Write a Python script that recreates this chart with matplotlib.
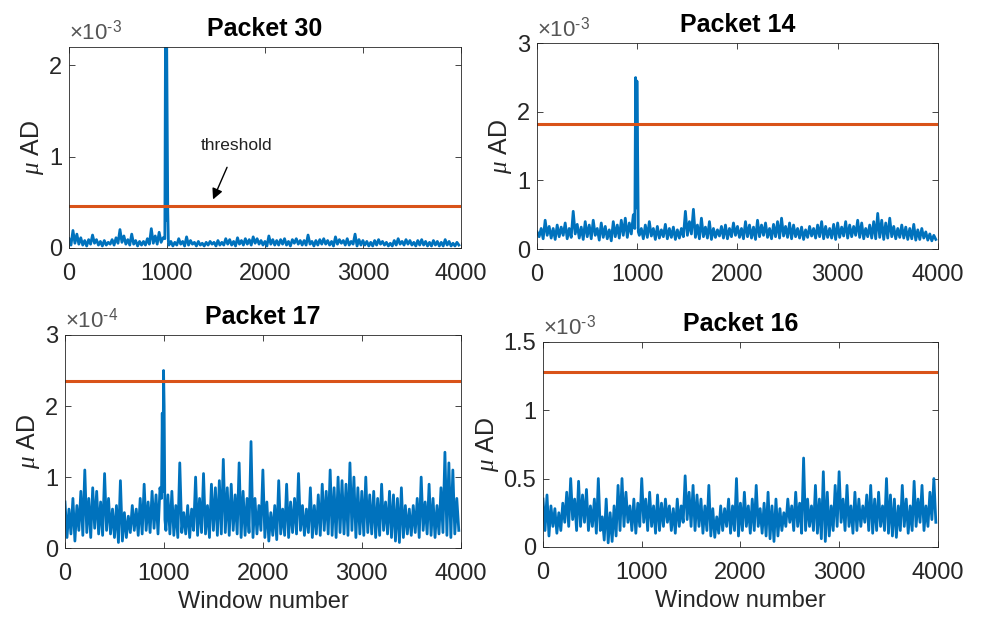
import numpy as np
import matplotlib
matplotlib.use("Agg")
import matplotlib.pyplot as plt

plt.rcParams['font.family'] = ['Liberation Sans', 'DejaVu Sans']
plt.rcParams['mathtext.fontset'] = 'custom'
plt.rcParams['mathtext.rm'] = 'Liberation Sans'
plt.rcParams['mathtext.it'] = 'Liberation Serif:italic'

#data: upper/lower envelope of the noise, every 20 windows
#Packet 30 (x1e-3)
p30_hi = [0.10,0.19,0.15,0.11,0.08,0.09,0.14,0.09,0.07,0.08,0.06,0.09,0.11,0.20,0.13,0.09,0.15,0.08,0.07,0.07,
          0.10,0.21,0.13,0.17,0.11,
          0.09,0.07,0.06,0.10,0.07,0.12,0.08,0.06,0.07,0.05,0.06,0.07,0.06,0.08,0.06,0.10,0.09,0.07,0.11,0.08,
          0.10,0.09,0.12,0.10,0.08,0.07,0.13,0.09,0.08,0.09,0.10,0.07,0.09,0.10,0.08,0.08,0.14,0.07,0.08,0.09,
          0.10,0.08,0.07,0.12,0.09,0.08,0.10,0.07,0.15,0.09,0.08,0.07,0.06,0.08,0.09,0.07,0.06,0.05,0.08,0.10,
          0.07,0.09,0.08,0.06,0.08,0.09,0.07,0.06,0.08,0.07,0.06,0.09,0.07,0.05,0.06]
p30_lo = [0.03,0.05,0.04,0.03,0.02,0.04,0.05,0.03,0.02,0.03,0.04,0.03,0.05,0.06,0.04,0.03,0.04,0.02,0.03,0.03,
          0.04,0.05,0.04,0.06,0.04,
          0.03,0.02,0.03,0.04,0.02,0.03,0.04,0.02,0.03,0.02,0.03,0.04,0.02,0.03,0.03,0.04,0.03,0.02,0.04,0.03,
          0.04,0.03,0.05,0.04,0.03,0.02,0.04,0.03,0.03,0.04,0.03,0.02,0.05,0.04,0.03,0.03,0.04,0.02,0.03,0.04,
          0.04,0.03,0.02,0.04,0.05,0.03,0.03,0.04,0.02,0.03,0.03,0.02,0.02,0.03,0.04,0.03,0.02,0.02,0.03,0.04,
          0.03,0.04,0.03,0.02,0.03,0.03,0.02,0.02,0.03,0.02,0.02,0.03,0.02,0.02,0.03]
p30_spike_x = [978, 985, 990, 996, 1002, 1008, 1014]
p30_spike_y = [0.10, 2.40, 0.30, 2.40, 1.35, 0.40, 0.07]
p30_thr = 0.46

#Packet 14 (x1e-3)
p14_hi = [0.25,0.30,0.42,0.33,0.30,0.35,0.32,0.38,0.30,0.55,0.36,0.32,0.40,0.35,0.42,0.30,0.38,0.33,0.28,0.40,
          0.35,0.42,0.45,0.38,0.50,
          0.38,0.30,0.35,0.40,0.30,0.33,0.28,0.36,0.30,0.32,0.28,0.30,0.55,0.40,0.58,0.35,0.45,0.32,0.40,0.30,
          0.28,0.33,0.35,0.30,0.38,0.33,0.30,0.40,0.35,0.32,0.42,0.35,0.38,0.30,0.36,0.40,0.45,0.33,0.38,0.35,
          0.30,0.32,0.28,0.33,0.30,0.35,0.40,0.33,0.30,0.36,0.38,0.32,0.40,0.35,0.33,0.42,0.38,0.30,0.35,0.40,
          0.52,0.42,0.38,0.45,0.33,0.30,0.35,0.32,0.30,0.36,0.28,0.30,0.25,0.22,0.20]
p14_lo = [0.18,0.15,0.20,0.16,0.14,0.18,0.20,0.15,0.17,0.22,0.16,0.14,0.18,0.15,0.20,0.13,0.17,0.15,0.12,0.18,
          0.16,0.20,0.17,0.22,0.18,
          0.20,0.15,0.17,0.19,0.14,0.16,0.18,0.15,0.17,0.14,0.16,0.18,0.20,0.22,0.17,0.15,0.18,0.16,0.14,0.17,
          0.19,0.16,0.15,0.18,0.20,0.17,0.15,0.18,0.16,0.14,0.18,0.20,0.17,0.15,0.18,0.16,0.19,0.17,0.15,0.18,
          0.16,0.14,0.17,0.19,0.16,0.18,0.15,0.17,0.16,0.14,0.17,0.19,0.16,0.18,0.20,0.17,0.15,0.18,0.16,0.15,
          0.17,0.14,0.16,0.18,0.15,0.17,0.16,0.14,0.15,0.13,0.14,0.16,0.13,0.12,0.14]
p14_spike_x = [975, 983, 990, 996, 1002, 1010]
p14_spike_y = [0.30, 2.50, 0.60, 2.45, 1.60, 0.25]
p14_thr = 1.83

#Packet 17 (x1e-4)
p17_hi = [0.65,0.55,0.70,0.60,0.80,1.10,0.70,0.85,0.80,0.65,1.05,0.70,0.55,0.60,0.95,0.50,0.45,0.60,0.55,0.70,
          0.90,0.65,0.80,0.75,0.85,
          0.80,0.75,0.80,0.60,1.20,0.50,0.60,0.55,1.00,0.70,1.05,0.60,0.90,0.85,0.95,1.25,0.85,0.90,0.75,1.20,
          0.80,0.70,1.50,0.70,0.60,1.10,0.65,0.50,0.60,0.95,0.55,0.90,0.65,0.70,1.05,0.60,0.55,0.85,0.60,0.75,
          0.90,0.80,1.10,0.85,1.00,0.95,0.90,1.20,1.00,0.85,0.80,1.00,0.75,0.80,0.70,0.90,0.65,0.80,0.75,0.70,
          0.85,0.60,0.55,0.60,0.70,1.00,0.65,0.90,0.70,0.60,0.85,1.35,1.20,1.10,0.70]
p17_lo = [0.15,0.20,0.10,0.25,0.18,0.22,0.15,0.28,0.20,0.18,0.25,0.20,0.15,0.08,0.10,0.15,0.22,0.25,0.18,0.20,
          0.25,0.22,0.28,0.20,0.30,
          0.25,0.20,0.18,0.15,0.22,0.20,0.15,0.25,0.18,0.22,0.20,0.15,0.25,0.18,0.20,0.22,0.18,0.25,0.20,0.15,
          0.18,0.22,0.15,0.20,0.25,0.15,0.10,0.18,0.12,0.20,0.18,0.15,0.22,0.20,0.25,0.18,0.22,0.15,0.20,0.18,
          0.25,0.20,0.18,0.15,0.22,0.20,0.18,0.25,0.15,0.20,0.18,0.22,0.20,0.15,0.18,0.25,0.20,0.15,0.10,0.08,
          0.15,0.20,0.18,0.22,0.15,0.25,0.20,0.18,0.15,0.20,0.22,0.18,0.15,0.20,0.25]
p17_spike_x = [975, 983, 990, 996, 1002, 1010]
p17_spike_y = [0.70, 1.90, 0.80, 2.50, 2.00, 0.40]
p17_thr = 2.35

#Packet 16 (x1e-3)
p16_hi = [0.35,0.38,0.30,0.28,0.25,0.32,0.40,0.50,0.35,0.48,0.38,0.42,0.30,0.35,0.50,0.22,0.35,0.25,0.30,0.45,
          0.50,0.40,0.30,0.35,0.32,
          0.50,0.35,0.40,0.30,0.38,0.32,0.35,0.30,0.28,0.35,0.30,0.52,0.40,0.45,0.38,0.35,0.30,0.45,0.28,0.22,
          0.30,0.28,0.35,0.30,0.50,0.32,0.40,0.30,0.35,0.45,0.28,0.32,0.40,0.30,0.35,0.28,0.25,0.35,0.30,0.40,
          0.32,0.65,0.35,0.30,0.45,0.35,0.55,0.40,0.30,0.45,0.55,0.35,0.45,0.30,0.40,0.35,0.30,0.38,0.45,0.35,
          0.40,0.30,0.50,0.38,0.35,0.30,0.45,0.35,0.30,0.48,0.35,0.45,0.30,0.40,0.50]
p16_lo = [0.12,0.08,0.15,0.10,0.12,0.18,0.15,0.20,0.12,0.15,0.18,0.12,0.15,0.10,0.12,0.05,0.03,0.04,0.08,0.12,
          0.15,0.18,0.12,0.10,0.15,
          0.18,0.12,0.15,0.10,0.12,0.15,0.18,0.12,0.10,0.15,0.18,0.20,0.15,0.12,0.15,0.10,0.12,0.08,0.07,0.10,
          0.12,0.15,0.10,0.12,0.08,0.12,0.15,0.10,0.12,0.15,0.10,0.08,0.06,0.04,0.08,0.12,0.15,0.18,0.12,0.15,
          0.10,0.12,0.15,0.12,0.10,0.06,0.04,0.08,0.12,0.15,0.18,0.12,0.15,0.10,0.12,0.15,0.18,0.12,0.10,0.12,
          0.15,0.12,0.10,0.08,0.07,0.12,0.15,0.10,0.12,0.15,0.18,0.12,0.15,0.20,0.18]
p16_spike_x = []
p16_spike_y = []
p16_thr = 1.28

titles = ["Packet 30", "Packet 14", "Packet 17", "Packet 16"]
scales = [1e-3, 1e-3, 1e-4, 1e-3]
exps = [r'$\times10^{\text{-}3}$', r'$\times10^{\text{-}3}$', r'$\times10^{\text{-}4}$', r'$\times10^{\text{-}3}$']
yticks = [[0, 1, 2], [0, 1, 2, 3], [0, 1, 2, 3], [0, 0.5, 1, 1.5]]
ylims = [2.2, 3, 3, 1.5]
xticks = [0, 1000, 2000, 3000, 4000]
xmax = 4000

#axes boxes (fig fractions)
boxes = [[0.0703, 0.599, 0.399, 0.325],
         [0.547, 0.597, 0.408, 0.333],
         [0.0662, 0.113, 0.403, 0.345],
         [0.553, 0.115, 0.402, 0.332]]

blue = '#0072BD'
orange = '#D95319'
dark = '#262626'

def series(hi, lo, sx, sy):
    xh = np.linspace(0, 3960, len(hi))
    xl = np.linspace(20, 3980, len(lo))
    x = np.concatenate([xh, xl, sx])
    y = np.concatenate([hi, lo, sy])
    # drop envelope points that sit inside the spike
    if len(sx):
        keep = (x < min(sx)) | (x > max(sx)) | np.isin(x, sx)
        x, y = x[keep], y[keep]
    o = np.argsort(x, kind='stable')
    return x[o], y[o]

data = [(p30_hi, p30_lo, p30_spike_x, p30_spike_y, p30_thr),
        (p14_hi, p14_lo, p14_spike_x, p14_spike_y, p14_thr),
        (p17_hi, p17_lo, p17_spike_x, p17_spike_y, p17_thr),
        (p16_hi, p16_lo, p16_spike_x, p16_spike_y, p16_thr)]

fig = plt.figure(figsize=(9.82, 6.18), dpi=100)
axes = []
for i in range(4):
    ax = fig.add_axes(boxes[i])
    hi, lo, sx, sy, thr = data[i]
    s = scales[i]
    x, y = series(hi, lo, sx, sy)
    ax.plot(x, y * s, color=blue, lw=2.0)
    ax.plot([0, xmax], [thr * s, thr * s], color=orange, lw=2.2)
    ax.set_xlim(0, xmax)
    ax.set_ylim(0, ylims[i] * s)
    ax.set_xticks(xticks)
    ax.set_xticklabels([str(t) for t in xticks])
    ax.set_yticks([t * s for t in yticks[i]])
    ax.set_yticklabels(['%g' % t for t in yticks[i]])
    ax.tick_params(axis='both', direction='in', length=4, width=0.6, top=True, right=True,
                   labelsize=17, colors=dark)
    ax.tick_params(axis='x', pad=11)
    ax.tick_params(axis='y', pad=5)
    for sp in ax.spines.values():
        sp.set_color(dark)
        sp.set_linewidth(0.6)
    ax.set_title(titles[i], fontsize=18, fontweight='bold', pad=8)
    ax.set_ylabel(r'$\mu$ AD', fontsize=18, color=dark, labelpad=2)
    ax.text(0, 1.01, exps[i], transform=ax.transAxes, ha='left', va='bottom',
            fontsize=16, color='#555555')
    if i >= 2:
        ax.set_xlabel("Window number", fontsize=17, color=dark, labelpad=4)
    axes.append(ax)

#threshold annotation on the first panel
axes[0].annotate("threshold", xy=(1470, 0.53e-3), xytext=(1710, 1.12e-3),
                 ha='center', va='center', fontsize=12.5, color='#222222',
                 arrowprops=dict(arrowstyle='-|>', color='black', lw=1.0,
                                 shrinkA=9, shrinkB=0, mutation_scale=16))

fig.savefig("out.png", dpi=100)
